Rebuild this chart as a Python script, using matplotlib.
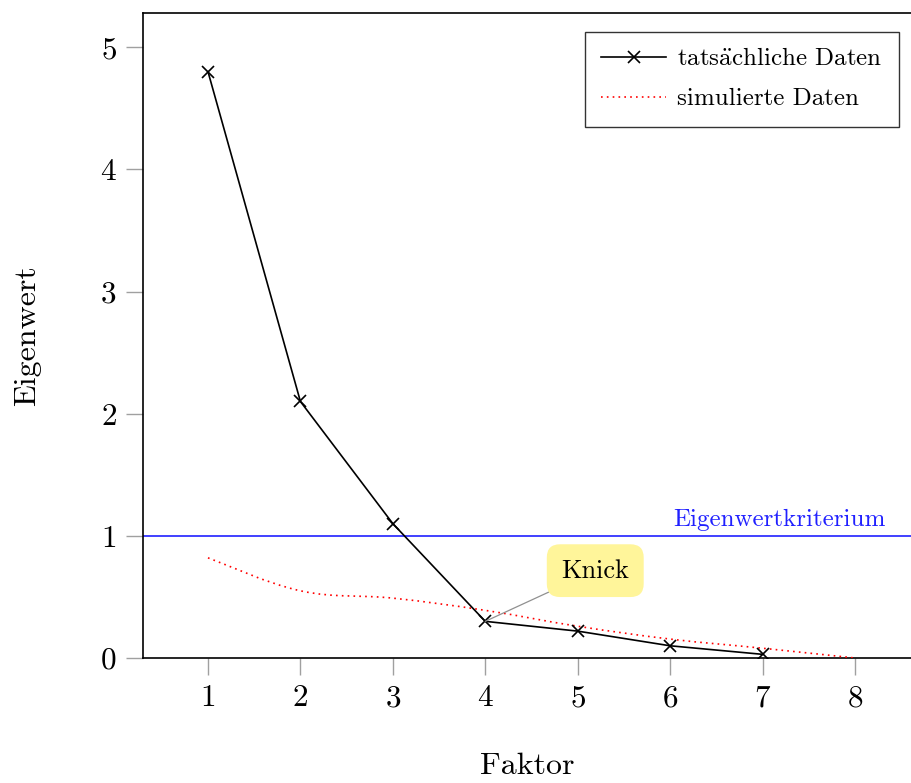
import matplotlib
matplotlib.use("Agg")
import matplotlib.pyplot as plt
from matplotlib.path import Path
from matplotlib.patches import PathPatch
from matplotlib.lines import Line2D
import numpy as np

faktoren = [1, 2, 3, 4, 5, 6, 7]
eigenwerte = [4.8, 2.1, 1.1, 0.3, 0.22, 0.1, 0.03]
sim_faktoren = [1, 2, 3, 4, 5, 6, 7, 8]
sim_eigenwerte = [0.82, 0.55, 0.49, 0.39, 0.26, 0.155, 0.08, 0.0]
kriterium = 1.0
xticks = [1, 2, 3, 4, 5, 6, 7, 8]
yticks = [0, 1, 2, 3, 4, 5]
legend_labels = [r'tats$\ddot{\mathrm{a}}$chliche Daten', 'simulierte Daten']

plt.rcParams['font.family'] = ['cmr10', 'DejaVu Serif']
plt.rcParams['mathtext.fontset'] = 'cm'
plt.rcParams['axes.formatter.use_mathtext'] = True

small = 18

fig = plt.figure(figsize=(9.12, 7.83), dpi=100)
ax = fig.add_axes([143/912, 1-658/783, 1-143/912, (658-13)/783])
ax.set_xlim(0.297, 8.617)
ax.set_ylim(0, 5.28)

# Kriterium line
ax.axhline(kriterium, color='#2020ff', lw=1.2, zorder=2)
ax.text(8.33, kriterium + 0.04, 'Eigenwertkriterium', color='#2020ff',
        fontsize=small, ha='right', va='bottom')

# smooth simulated curve (bezier rendering through the data points)
pts = np.column_stack([sim_faktoren, sim_eigenwerte]).astype(float)
verts = [tuple(pts[0])]
codes = [Path.MOVETO]
k = 0.55
n = len(pts)
for i in range(n - 1):
    p0 = pts[i - 1] if i > 0 else pts[i]
    p1 = pts[i]
    p2 = pts[i + 1]
    p3 = pts[i + 2] if i + 2 < n else pts[i + 1]
    c1 = p1 + (p2 - p0) * k / 3
    c2 = p2 - (p3 - p1) * k / 3
    verts += [tuple(c1), tuple(c2), tuple(p2)]
    codes += [Path.CURVE4] * 3
patch = PathPatch(Path(verts, codes), facecolor='none', edgecolor='red',
                  lw=1.2, linestyle=(0, (1, 2.5)), zorder=3)
ax.add_patch(patch)

ax.plot(faktoren, eigenwerte, color='black', lw=1.2, marker='x',
        markersize=9, markeredgewidth=1.2, zorder=4)

# Knick annotation
ax.annotate('Knick', xy=(4, 0.3), xytext=(5.19, 0.715),
            fontsize=small + 1, ha='center', va='center',
            bbox=dict(boxstyle='round,pad=0.55,rounding_size=0.5',
                      fc='#fff59a', ec='none'),
            arrowprops=dict(arrowstyle='-', color='#909090', lw=0.9,
                            shrinkA=0, shrinkB=0),
            zorder=5)

handles = [Line2D([], [], color='black', lw=1.2, marker='x', markersize=9,
                  markeredgewidth=1.2),
           Line2D([], [], color='red', lw=1.2, linestyle=(0, (1, 2.5)))]
leg = ax.legend(handles, legend_labels,
                loc='upper right', bbox_to_anchor=(0.983, 0.971),
                fontsize=small, frameon=True, fancybox=False,
                edgecolor='black', handlelength=2.6, borderpad=0.65,
                labelspacing=0.7, handletextpad=0.45, borderaxespad=0)
leg.get_frame().set_linewidth(1.0)

ax.set_xticks(xticks)
ax.set_yticks(yticks)
ax.tick_params(direction='out', length=12, width=1.0, color='#a0a0a0',
               labelsize=22.5, pad=7)
ax.spines['right'].set_visible(False)
for s in ['left', 'top', 'bottom']:
    ax.spines[s].set_linewidth(1.2)

ax.set_xlabel('Faktor', fontsize=23, labelpad=29)
ax.set_ylabel('Eigenwert', fontsize=23, labelpad=42)

fig.savefig('out.png', dpi=100)
